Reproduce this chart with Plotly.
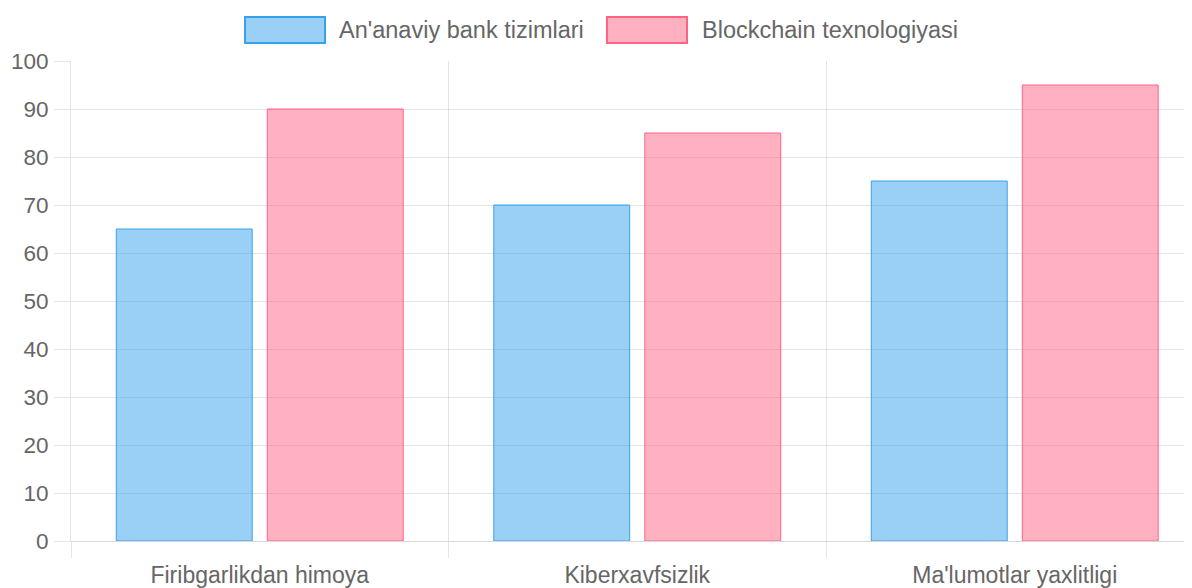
import plotly.graph_objects as go

categories = ["Firibgarlikdan himoya", "Kiberxavfsizlik", "Ma'lumotlar yaxlitligi"]
series_names = ["An'anaviy bank tizimlari", "Blockchain texnologiyasi"]
traditional = [65, 70, 75]
blockchain = [90, 85, 95]

fill_colors = ["rgba(54,162,235,0.5)", "rgba(255,99,132,0.5)"]
line_colors = ["rgb(54,162,235)", "rgb(255,99,132)"]
grid = "rgba(0,0,0,0.1)"
txt = "#666666"
FONT = "Liberation Sans, Arial, sans-serif"

# page body has an 8px default margin; figure sized to fill the rest of the window
OFF = 8
W, H = 1192 - OFF, 588 - OFF
ML, MR, MT, MB = 71 - OFF, 0, 61 - OFF, 47
cat_px = 377.5
plot_w = W - ML - MR
plot_h = H - MT - MB

xpos = list(range(len(categories)))

fig = go.Figure()
for name, vals, fc, lc in zip(series_names, [traditional, blockchain], fill_colors, line_colors):
    fig.add_trace(go.Bar(
        x=xpos, y=vals, name=name,
        marker=dict(color=fc, line=dict(color=lc, width=1)),
        showlegend=False,
    ))

fig.update_layout(
    width=W, height=H,
    margin=dict(l=ML, r=MR, t=MT, b=MB, pad=0, autoexpand=False),
    paper_bgcolor="white", plot_bgcolor="white",
    barmode="group", bargap=0.2, bargroupgap=0.1,
    font=dict(family=FONT, color=txt, size=21),
)

fig.update_xaxes(
    range=[-0.5, -0.5 + plot_w / cat_px],
    tickvals=xpos, ticktext=categories,
    ticks="", showgrid=False, automargin=False,
    tickfont=dict(size=23, color=txt),
    ticklabelstandoff=13,
    showline=True, linecolor="rgba(0,0,0,0.15)", linewidth=1,
    minor=dict(tickvals=[-0.5, 0.5, 1.5, 2.5], showgrid=True, gridcolor=grid, gridwidth=1,
               ticks="outside", ticklen=16, tickcolor=grid, tickwidth=1),
    zeroline=False, fixedrange=True,
)
fig.update_yaxes(
    range=[0, 100], dtick=10, tick0=0,
    showgrid=True, gridcolor=grid, gridwidth=1, automargin=False,
    ticks="outside", ticklen=16, tickcolor=grid, tickwidth=1,
    tickfont=dict(size=22.5, color=txt),
    ticklabelstandoff=1,
    showline=True, linecolor=grid, linewidth=1,
    zeroline=False, fixedrange=True,
)

# custom legend (Chart.js style wide boxes); positions given in window pixels
def px_x(px):
    return (px - OFF - ML) / plot_w

def px_y(py):
    return (H - MB - (py - OFF)) / plot_h

legend_items = [(245, 337), (607, 700)]
for (bx, tx), name, fc, lc in zip(legend_items, series_names, fill_colors, line_colors):
    fig.add_shape(type="rect", xref="paper", yref="paper",
                  x0=px_x(bx), x1=px_x(bx + 80), y0=px_y(43), y1=px_y(17),
                  fillcolor=fc, line=dict(color=lc, width=2))
    fig.add_annotation(xref="paper", yref="paper", x=px_x(tx), y=px_y(30),
                       xanchor="left", yanchor="middle", showarrow=False,
                       text=name, font=dict(size=23.5, color=txt, family=FONT))

fig.write_html("out.html")
